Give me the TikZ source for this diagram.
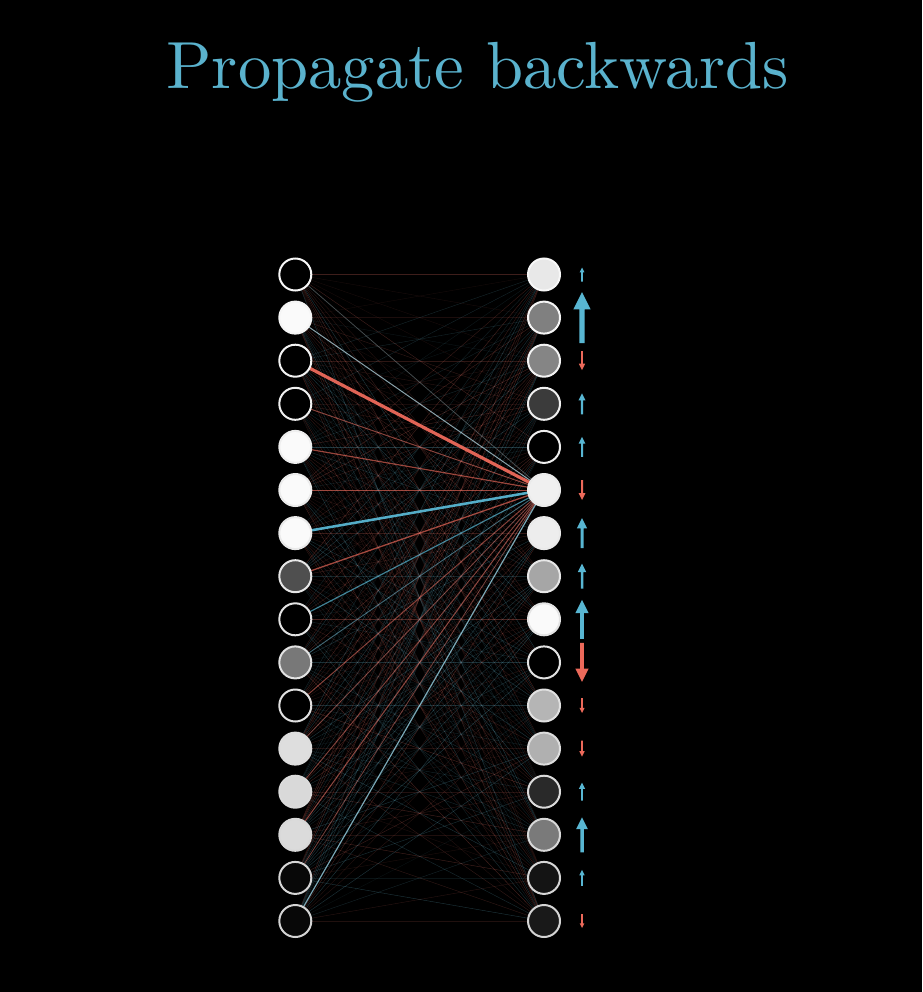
\documentclass[tikz,border=0pt]{standalone}
\usepackage{fontspec}
\setmainfont{lmroman10-regular.otf}
\usetikzlibrary{calc}
\definecolor{myblue}{RGB}{88,182,210}
\definecolor{myred}{RGB}{236,105,90}
\definecolor{titleblue}{RGB}{90,178,205}
\pgfdeclarelayer{back}
\pgfdeclarelayer{bg}
\pgfsetlayers{back,bg,main}
\begin{document}
\begin{tikzpicture}[x=0.75pt,y=-0.75pt,
  neuron/.style={circle,inner sep=0pt,minimum size=24pt,line width=1.5pt},
  faint/.style={line width=0.3pt}]
\begin{pgfonlayer}{back}
\fill[black] (0,0) rectangle (922,992);
\end{pgfonlayer}
\useasboundingbox (0,0) rectangle (922,992);

\node[text=titleblue,font=\fontsize{50}{60}\selectfont,anchor=base,inner sep=0pt] (title) at (477.5,88) {Propagate backwards};

% left neurons
\foreach \i/\g in {1/0,2/0.98,3/0,4/0,5/0.98,6/0.98,7/0.98,8/0.31,9/0,10/0.47,11/0,12/0.87,13/0.85,14/0.86,15/0.03,16/0.03}{
  \pgfmathsetmacro{\yy}{274.5+43.1*(\i-1)}
  \pgfmathsetmacro{\sg}{97-14*(\i-1)/15}
  \definecolor{fc}{gray}{\g}
  \colorlet{sc}{white!\sg!black}
  \node[neuron,draw=sc,fill=fc] (L\i) at (295.3,\yy) {};
}
% right neurons
\foreach \i/\g in {1/0.91,2/0.50,3/0.52,4/0.23,5/0,6/0.94,7/0.93,8/0.65,9/0.98,10/0,11/0.71,12/0.69,13/0.16,14/0.48,15/0.08,16/0.10}{
  \pgfmathsetmacro{\yy}{274.5+43.1*(\i-1)}
  \pgfmathsetmacro{\sg}{97-14*(\i-1)/15}
  \definecolor{fc}{gray}{\g}
  \colorlet{sc}{white!\sg!black}
  \node[neuron,draw=sc,fill=fc] (R\i) at (544,\yy) {};
}

% faint connections
\begin{pgfonlayer}{bg}
\pgfmathsetseed{12345}
\foreach \i in {1,...,16}{
  \foreach \j in {1,...,16}{
    \pgfmathsetmacro{\c}{rnd}
    \pgfmathsetmacro{\o}{0.10+0.25*rnd}
    \ifdim\c pt<0.5pt \def\col{myblue!80!gray}\else\def\col{myred!85!gray}\fi
    \draw[faint,draw=\col,opacity=\o] (L\i.center) -- (R\j.center);
  }
}
% highlighted connections to R6
\foreach \i/\col/\w/\o in {1/gray/0.6/0.45,2/myblue!45!white/0.75/0.7,3/myred/2.4/0.95,4/myred/0.75/0.55,5/myred/0.9/0.6,6/myred/0.75/0.55,7/myblue/1.9/0.95,8/myred/1.0/0.65,9/myblue/0.9/0.65,10/myblue/0.7/0.5,11/myred/0.75/0.55,12/myred/0.7/0.45,13/myred/0.7/0.5,14/myred/0.8/0.55,15/myred/0.6/0.45,16/myblue!60!white/0.9/0.75}{
  \draw[draw=\col,line width=\w pt,opacity=\o] (L\i.center) -- (R6.center);
}
\end{pgfonlayer}

% gradient arrows
\foreach \i/\d/\L in {1/-1/14,2/-1/51,3/1/19,4/-1/21,5/-1/20,6/1/20,7/-1/30,8/-1/25,9/-1/39,10/1/39,11/1/15,12/1/16,13/-1/18,14/-1/35,15/-1/16,16/1/14}{
  \pgfmathsetmacro{\yc}{274.5+43.1*(\i-1)}
  \pgfmathsetmacro{\tip}{\yc+\d*\L/2}
  \pgfmathsetmacro{\tail}{\yc-\d*\L/2}
  \pgfmathsetmacro{\base}{\tip-\d*0.34*\L}
  \pgfmathsetmacro{\hw}{max(2.2,0.17*\L)}
  \pgfmathsetmacro{\sw}{max(0.8,0.05*\L)}
  \ifnum\d<0 \def\acol{myblue}\else\def\acol{myred}\fi
  \fill[\acol] (582-\sw,\tail) -- (582-\sw,\base) -- (582-\hw,\base) -- (582,\tip) -- (582+\hw,\base) -- (582+\sw,\base) -- (582+\sw,\tail) -- cycle;
}
\end{tikzpicture}
\end{document}
